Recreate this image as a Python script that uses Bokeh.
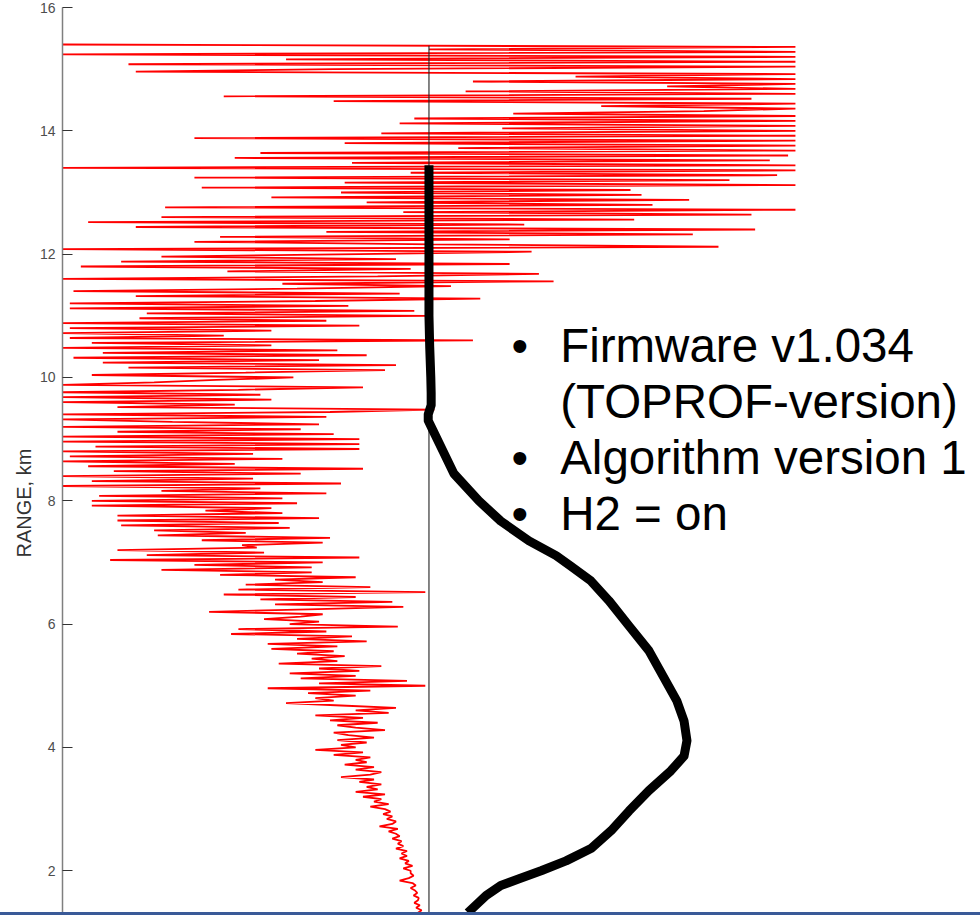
import numpy as np
from bokeh.plotting import figure
from bokeh.models import Range1d, Label, FixedTicker, Div, Title
from bokeh.layouts import column
from bokeh.embed import file_html
from bokeh.resources import INLINE

# ---------------------------------------------------------------------------
# Profile signal versus range, one list per kilometre band (gate step 0.04 km)
# ---------------------------------------------------------------------------
GATE_KM = 0.04
band_start_km = [1.32, 2, 3, 4, 5, 6, 7, 8, 9, 10, 11, 12, 13, 14, 15]

sig_01 = [-0.03, -0.02, -0.035, -0.025, -0.04, -0.03, -0.028, -0.042, -0.032,
          -0.038, -0.05, -0.036, -0.045, -0.08, -0.055, -0.042, -0.05]
sig_02 = [-0.05, -0.07, -0.045, -0.065, -0.055, -0.08, -0.06, -0.075, -0.06, -0.09,
          -0.07, -0.085, -0.075, -0.1, -0.08, -0.09, -0.11, -0.085, -0.135, -0.1,
          -0.09, -0.115, -0.1, -0.125, -0.105]
sig_03 = [-0.12, -0.16, -0.11, -0.15, -0.13, -0.18, -0.12, -0.2, -0.14, -0.17,
          -0.13, -0.19, -0.15, -0.24, -0.16, -0.13, -0.2, -0.15, -0.23, -0.17,
          -0.2, -0.16, -0.26, -0.18, -0.31]
sig_04 = [-0.2, -0.24, -0.17, -0.25, -0.15, -0.22, -0.26, -0.12, -0.2, -0.25,
          -0.14, -0.27, -0.18, -0.31, -0.11, -0.2, -0.09, -0.24, -0.39, -0.26,
          -0.31, -0.2, -0.33, -0.16, -0.44]
sig_05 = [-0.01, -0.3, -0.06, -0.35, -0.2, -0.38, -0.19, -0.3, -0.13, -0.41,
          -0.25, -0.32, -0.23, -0.36, -0.26, -0.43, -0.25, -0.44, -0.17, -0.36,
          -0.21, -0.54, -0.28, -0.52, -0.085]
sig_06 = [-0.38, -0.3, -0.45, -0.35, -0.29, -0.6, -0.33, -0.07, -0.42, -0.1,
          -0.46, -0.2, -0.56, -0.01, -0.52, -0.16, -0.5, -0.29, -0.42, -0.2,
          -0.57, -0.32, -0.73, -0.32, -0.64]
sig_07 = [-0.29, -0.87, -0.19, -0.77, -0.45, -0.85, -0.47, -0.51, -0.29, -0.62,
          -0.27, -0.74, -0.5, -0.75, -0.38, -0.84, -0.41, -0.85, -0.3, -0.85,
          -0.4, -0.61, -0.43, -0.92, -0.36]
sig_08 = [-0.92, -0.4, -0.9, -0.28, -0.73, -0.46, -1.0, -0.24, -0.92, -0.48,
          -1.0, -0.35, -0.86, -0.18, -0.93, -0.53, -1.0, -0.4, -0.98, -0.48,
          -1.0, -0.19, -0.91, -0.19, -1.0]
sig_09 = [-0.19, -1.0, -0.26, -0.85, -0.35, -1.0, -0.3, -0.7, -1.0, -0.28,
          -1.0, -0.27, 0.015, -0.85, -0.53, -1.0, -0.43, -1.0, -0.46, -1.0,
          -0.52, -0.18, -1.0, -0.75, -0.58]
sig_10 = [-0.37, -0.92, -0.5, -0.12, -0.82, -0.09, -0.89, -0.3, -0.97, -0.17,
          -0.89, -0.25, -1.0, -0.43, -0.92, 0.12, -0.98, -0.56, -1.0, -0.43,
          -0.98, -0.19, -1.0, -0.28, -0.79]
sig_11 = [-0.01, -0.77, -0.04, -0.98, -0.22, -0.98, -0.31, 0.14, -0.8, -0.08,
          -0.97, -0.36, 0.06, -0.4, 0.34, -1.0, -0.14, 0.3, -0.55, -0.05,
          -0.95, 0.22, -0.84, -0.09, -0.73]
sig_12 = [-0.19, 0.28, -1.0, 0.79, 0.01, -0.64, 0.22, -0.57, 0.72, -0.28,
          0.89, -0.8, 0.26, -0.93, 0.56, -0.73, 0.88, -0.07, 1.0, -0.72,
          0.61, -0.17, 0.71, -0.43, 0.58]
sig_13 = [-0.24, 0.55, -0.62, 1.0, -0.23, 0.82, -0.64, 0.95, -0.05, 1.0,
          -1.0, 1.0, -0.21, 0.93, -0.53, 0.98, -0.46, 1.0, 0.08, 1.0,
          -0.23, 1.0, -0.64, 1.0, -0.13]
sig_14 = [1.0, 0.2, 1.0, -0.08, 1.0, -0.04, 1.0, 0.23, 0.75, 1.0,
          0.47, 1.0, -0.26, 0.88, -0.56, 1.0, 0.1, 1.0, 0.65, 1.0,
          0.12, 1.0, 0.4, 1.0, -0.8]
sig_15 = [-0.26, 1.0, -0.82, 1.0, -0.39, 1.0, -1.0, 1.0, 0.0, 1.0, -1.0]

bands = [sig_01, sig_02, sig_03, sig_04, sig_05, sig_06, sig_07, sig_08,
         sig_09, sig_10, sig_11, sig_12, sig_13, sig_14, sig_15]

# Smooth hand-drawn profile (thick black curve)
curve_range_km = [1.32, 1.60, 1.76, 1.87, 2.00, 2.16, 2.36, 2.65, 2.97, 3.30,
                  3.62, 3.86, 4.11, 4.43, 4.76, 5.08, 5.57, 5.97, 6.38, 6.70,
                  6.94, 7.11, 7.35, 7.67, 8.00, 8.44, 8.81, 9.14, 9.30, 9.40,
                  9.55, 9.75, 10.0, 10.5, 11.0, 12.0, 13.44]
curve_value = [0.106, 0.156, 0.196, 0.246, 0.306, 0.374, 0.442, 0.497, 0.546, 0.6,
               0.66, 0.696, 0.704, 0.696, 0.676, 0.646, 0.6, 0.546, 0.491, 0.442,
               0.387, 0.347, 0.273, 0.196, 0.136, 0.068, 0.038, 0.011, -0.002, -0.002,
               0.006, 0.006, 0.005, 0.002, 0.0, 0.0, 0.0]

# Zero reference line
zero_x = [0.0, 0.0]
zero_range_km = [1.0, 15.38]

y_ticks = [2, 4, 6, 8, 10, 12, 14, 16]

notes = ["Firmware v1.034", "(TOPROF-version)", "Algorithm version 1", "H2 = on"]
note_bullet = [True, False, True, True]

range_km = np.concatenate([start + GATE_KM * np.arange(len(vals))
                           for start, vals in zip(band_start_km, bands)])
signal = np.concatenate([np.asarray(v, dtype=float) for v in bands])

FONT = "Liberation Sans"

p = figure(width=980, height=912,
           x_range=Range1d(-1.0, 1.505), y_range=Range1d(1.323, 16.0),
           output_backend="svg", toolbar_location=None,
           min_border_left=62, min_border_right=0,
           min_border_top=7, min_border_bottom=0)

p.xaxis.visible = False
p.grid.visible = False
p.outline_line_color = None
p.background_fill_color = "white"
p.border_fill_color = "white"

ax = p.yaxis[0]
ax.ticker = FixedTicker(ticks=y_ticks)
ax.minor_tick_line_color = None
ax.major_tick_in = 10
ax.major_tick_out = 0
ax.major_tick_line_color = "#333333"
ax.major_tick_line_width = 1
ax.axis_line_color = "#7f7f7f"
ax.axis_line_width = 1.5
ax.major_label_text_font = FONT
ax.major_label_text_font_size = "14px"
ax.major_label_text_color = "#4d4d4d"
ax.major_label_standoff = 7

# axis title, placed along the left side
p.add_layout(Title(text="RANGE, km", align="left", offset=355,
                   text_font=FONT, text_font_size="20px",
                   text_font_style="normal", text_color="#333333",
                   standoff=4), "left")

# profile trace
p.line(signal, range_km, line_color="#ff0000", line_width=1.8, line_alpha=1.0)

# zero line
p.line(zero_x, zero_range_km, line_color="#222222", line_width=1.1)

# thick profile curve
p.line(curve_value, curve_range_km, line_color="black", line_width=9,
       line_join="round")

# bulleted notes
note_x, bullet_x = 0.358, 0.225
note_top_km, note_step_km = 10.52, 0.91
for i, (txt, has_bullet) in enumerate(zip(notes, note_bullet)):
    yy = note_top_km - i * note_step_km
    p.add_layout(Label(x=note_x, y=yy, text=txt, text_font=FONT,
                       text_font_size="47.5px", text_color="black",
                       text_baseline="alphabetic"))
    if has_bullet:
        p.add_layout(Label(x=bullet_x, y=yy, text="\u2022", text_font=FONT,
                           text_font_size="47.5px", text_color="black",
                           text_baseline="alphabetic"))

bottom_bar = Div(width=980, height=3,
                 styles={"background-color": "#3a5a98", "margin": "0"})

layout = column(p, bottom_bar, spacing=0)

with open("out.html", "w") as f:
    f.write(file_html(layout, INLINE))
